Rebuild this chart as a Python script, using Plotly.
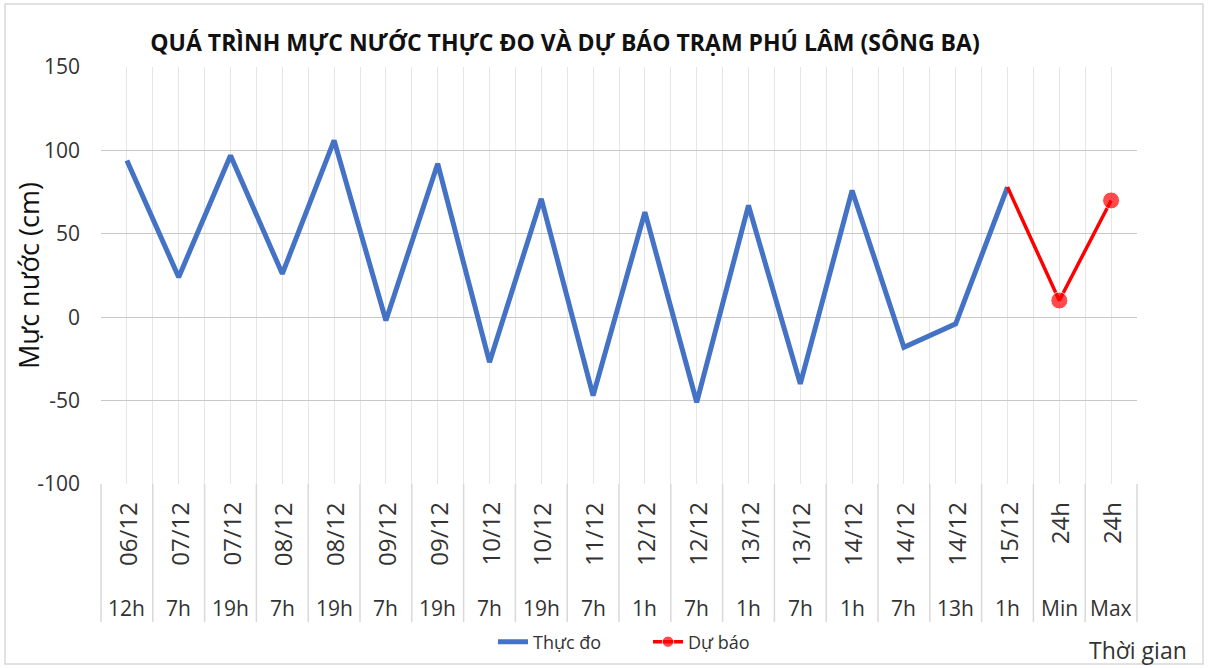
import plotly.graph_objects as go

# ── Data ─────────────────────────────────────────────────────────────────────

DATES = ["06/12", "07/12", "07/12", "08/12", "08/12", "09/12", "09/12", "10/12",
         "10/12", "11/12", "12/12", "12/12", "13/12", "13/12", "14/12", "14/12",
         "14/12", "15/12", "24h", "24h"]
HOURS = ["12h", "7h", "19h", "7h", "19h", "7h", "19h", "7h", "19h", "7h",
         "1h", "7h", "1h", "7h", "1h", "7h", "13h", "1h", "Min", "Max"]

OBSERVED = [94, 24, 97, 26, 106, -2, 92, -27, 71, -47,
            63, -51, 67, -40, 76, -18, -4, 78]
FORECAST = [78, 10, 70]          # 15/12 1h, 24h Min, 24h Max
FORECAST_MARKER = [0, 17, 17]    # no dot on the joining point

Y_TICKS = [-100, -50, 0, 50, 100, 150]
Y_TICK_TEXT = ["-100", "-50", "0", "50", "100", "150"]

BLUE = "#4472C4"
RED = "#FF0000"
GRID = "#d9d9d9"
TEXT = "#333333"
FONT = "Open Sans"

# pixel helpers for the plot box (l=101, r=1137, t=67, b=484)
W, H = 1208, 668
L, R, T, B = 101, 1137, 67, 484


def px_x(px):
    return (px - L) / (R - L)


def px_y(py):
    return (B - py) / (B - T)


n = len(HOURS)
idx = list(range(n))
obs_x = idx[:len(OBSERVED)]
fc_x = idx[len(OBSERVED) - 1:]

fig = go.Figure()
fig.add_trace(go.Scatter(
    x=obs_x, y=OBSERVED, mode="lines", name="Thực đo",
    line=dict(color=BLUE, width=5),
))
fig.add_trace(go.Scatter(
    x=fc_x, y=FORECAST, mode="lines+markers", name="Dự báo",
    line=dict(color=RED, width=3.5),
    marker=dict(color=RED, size=FORECAST_MARKER),
))

# category label area (two rows like Excel's multi-level axis)
annotations = []
for i in idx:
    annotations.append(dict(
        x=i, xref="x", y=px_y(500), yref="paper", yanchor="top",
        text=DATES[i], textangle=-90, showarrow=False,
        font=dict(family=FONT, size=24, color=TEXT),
    ))
    annotations.append(dict(
        x=i, xref="x", y=px_y(608), yref="paper", yanchor="middle",
        text=HOURS[i], showarrow=False,
        font=dict(family=FONT, size=21, color=TEXT),
    ))
annotations.append(dict(
    x=px_x(1189), xref="paper", xanchor="right", y=px_y(650), yref="paper",
    yanchor="middle", text="Thời gian", showarrow=False,
    font=dict(family=FONT, size=23, color=TEXT),
))
# y-axis title
annotations.append(dict(
    x=px_x(28), xref="paper", xanchor="center", y=px_y(276), yref="paper",
    yanchor="middle", text="Mực nước (cm)", textangle=-90, showarrow=False,
    font=dict(family=FONT, size=27, color="#111111"),
))

shapes = []
for k in range(n + 1):
    shapes.append(dict(
        type="line", xref="paper", yref="paper",
        x0=k / n, x1=k / n, y0=0, y1=px_y(622),
        line=dict(color=GRID, width=1.5),
    ))
# outer chart frame
shapes.append(dict(
    type="rect", xref="paper", yref="paper",
    x0=px_x(5), x1=px_x(1203), y0=px_y(664), y1=px_y(4),
    line=dict(color=GRID, width=1.5), layer="below",
))

fig.update_layout(
    width=W, height=H,
    margin=dict(l=L, r=W - R, t=T, b=H - B),
    paper_bgcolor="white", plot_bgcolor="white",
    font=dict(family=FONT, color=TEXT),
    title=dict(
        text="<b>QUÁ TRÌNH MỰC NƯỚC THỰC ĐO VÀ DỰ BÁO TRẠM PHÚ LÂM (SÔNG BA)</b>",
        x=565 / W, xanchor="center", xref="container",
        y=1 - 43 / H, yanchor="middle", yref="container",
        font=dict(family=FONT, size=23, color="#111111"),
    ),
    xaxis=dict(
        range=[-0.5, n - 0.5], tick0=-0.5, dtick=0.5,
        showgrid=True, gridcolor="#e6e6e6", gridwidth=1,
        showticklabels=False, zeroline=False, showline=False,
        automargin=False, fixedrange=True,
    ),
    yaxis=dict(
        range=[-100, 150], tickvals=Y_TICKS, ticktext=Y_TICK_TEXT,
        showgrid=True, gridcolor="#c8c8c8", gridwidth=1,
        zeroline=False, showline=False, automargin=False,
        ticks="", ticklabelstandoff=20,
        tickfont=dict(family=FONT, size=21, color=TEXT),
    ),
    legend=dict(
        orientation="h",
        xref="container", xanchor="left", x=493 / W,
        yref="container", yanchor="middle", y=1 - 642 / H,
        font=dict(family=FONT, size=18, color=TEXT),
        bgcolor="rgba(0,0,0,0)",
        entrywidth=110, entrywidthmode="pixels",
    ),
    showlegend=True,
    annotations=annotations,
    shapes=shapes,
)

fig.write_html(
    "out.html",
    config={"displayModeBar": False},
    post_script="document.body.style.margin='0';",
)
